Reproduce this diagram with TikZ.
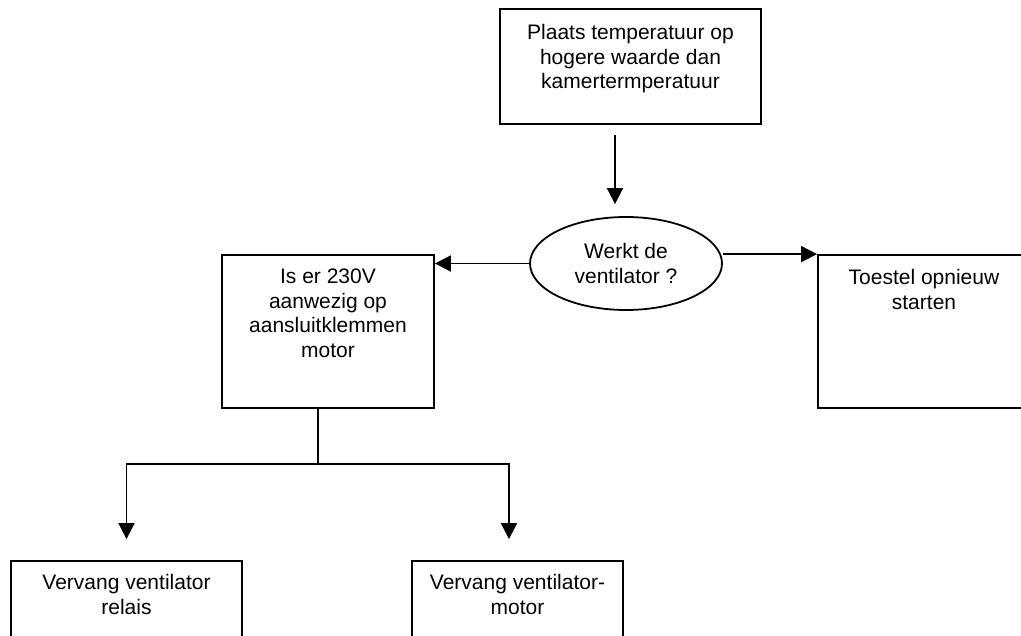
\documentclass[tikz,border=0pt]{standalone}
\usepackage{fontspec}
\setmainfont{Liberation Sans}
\usetikzlibrary{arrows.meta, positioning, shapes.geometric}
\tikzset{
    stapbox/.style={draw, line width=1.8pt, inner sep=0pt},
    staptekst/.style={align=center, inner sep=0pt, font=\fontsize{21}{24.5}\selectfont},
    vraagvorm/.style={ellipse, draw, line width=1.8pt, inner sep=0pt, align=center,
        font=\fontsize{21}{24.5}\selectfont},
    lijn/.style={line width=1.8pt},
    pijl/.style={-{Triangle[width=16pt,length=16pt]}, line width=1.8pt}
}

\begin{document}
\begin{tikzpicture}[x=1pt, y=-1pt]
  \useasboundingbox (0,0) rectangle (1021,636);
  \clip (0,0) rectangle (1021,636);

  % stappen
  \node[stapbox, minimum width=261pt, minimum height=115pt] (plaats) at (630.5,66.5) {};
  \node[staptekst, below=16pt of plaats.north] (plaatstekst)
    {Plaats temperatuur op\\hogere waarde dan\\kamertermperatuur};

  \node[vraagvorm, minimum width=192pt, minimum height=93pt] (vraag) at (626,263.5)
    {Werkt de\\ventilator ?};

  \node[stapbox, minimum width=212pt, minimum height=153pt] (zoek) at (328,331.5) {};
  \node[staptekst, below=15pt of zoek.north] (zoektekst)
    {Is er 230V\\aanwezig op\\aansluitklemmen\\motor};

  \node[stapbox, minimum width=212pt, minimum height=153pt] (herstart) at (924,331.5) {};
  \node[staptekst, below=15pt of herstart.north] (herstarttekst)
    {Toestel opnieuw\\starten};

  \node[stapbox, minimum width=231pt, minimum height=153pt] (relais) at (126.5,637.5) {};
  \node[staptekst, below=14pt of relais.north] (relaistekst)
    {Vervang ventilator\\relais};

  \node[stapbox, minimum width=211pt, minimum height=153pt] (motor) at (517.5,637.5) {};
  \node[staptekst, below=14pt of motor.north] (motortekst)
    {Vervang ventilator-\\motor};

  % verbindingen
  \draw[pijl, shorten <=10pt, shorten >=12pt]
    ([xshift=-15.5pt]plaats.south) -- ([xshift=-15.5pt]plaats.south |- vraag.north);
  \draw[pijl] (vraag.west) -- (vraag.west -| zoek.east);
  \draw[pijl] (vraag.east |- herstart.north west) -- (herstart.north west);

  \coordinate (tak) at (318,464);
  \draw[lijn] (zoek.south -| tak) -- (tak);
  \draw[pijl] (tak) -| ([yshift=21pt]relais.north);
  \draw[pijl] (tak) -| ([xshift=-8.5pt,yshift=21pt]motor.north);
\end{tikzpicture}
\end{document}
